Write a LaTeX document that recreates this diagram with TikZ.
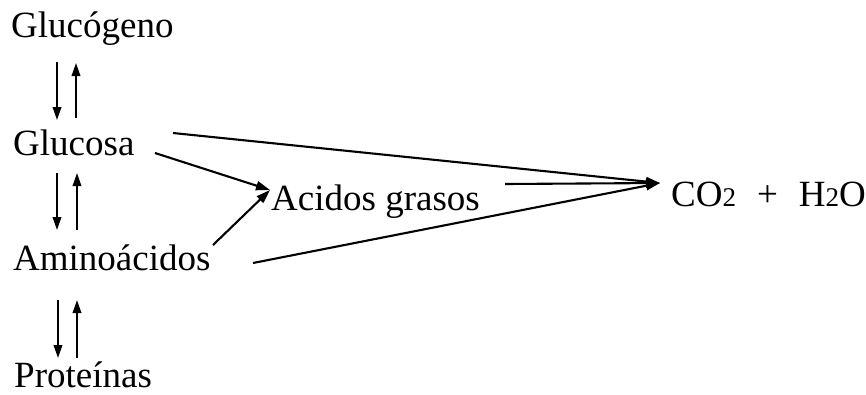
\documentclass[tikz,border=0pt]{standalone}
\usepackage{fontspec}
\setmainfont{Liberation Serif}
\usetikzlibrary{calc,arrows.meta}
\newcommand{\subtwo}{{\fontsize{27}{30}\selectfont 2}}
\begin{document}
\begin{tikzpicture}[x=1pt,y=-1pt,
  lbl/.style={inner sep=0pt,anchor=base west,font=\fontsize{37}{44}\selectfont},
  arr/.style={line width=2.1pt,-{Triangle[length=14pt,width=9pt]}},
  varr/.style={line width=2pt,-{Triangle[length=13pt,width=8.5pt]}}]
\useasboundingbox (0,0) rectangle (866,394);
\node[lbl] (gn) at (11,37) {Glucógeno};
\node[lbl] (gs) at (13,155) {Glucosa};
\node[lbl] (am) at (13,270) {Aminoácidos};
\node[lbl] (pr) at (14,387) {Proteínas};
\node[lbl] (ag) at (271,210) {Acidos grasos};
\node[lbl] (co) at (671,206) {CO\subtwo\hspace{21pt}+\hspace{21pt}H\subtwo O};
\coordinate (sink) at ($(co.base west)+(-11,-23)$);
\coordinate (agtip) at ($(ag.base west)+(-1,-20)$);
% vertical pairs
\draw[varr] ($(gn.base west)+(46,25)$) -- ($(gs.base west)+(44,-35)$);
\draw[varr] ($(gs.base west)+(63,-37)$) -- ($(gn.base west)+(65,26)$);
\draw[varr] ($(gs.base west)+(44,18)$) -- ($(am.base west)+(44,-40)$);
\draw[varr] ($(am.base west)+(64,-40)$) -- ($(gs.base west)+(64,18)$);
\draw[varr] ($(am.base west)+(45,30)$) -- ($(pr.base west)+(44,-29)$);
\draw[varr] ($(pr.base west)+(63,-29)$) -- ($(am.base west)+(64,30)$);
% diagonals
\draw[arr] ($(gs.base west)+(160,-22)$) -- (sink);
\draw[arr] ($(gs.base west)+(142,-2)$) -- (agtip);
\draw[arr] ($(am.base west)+(200,-25)$) -- (agtip);
\draw[arr] ($(ag.base west)+(234,-26)$) -- (sink);
\draw[arr] ($(am.base west)+(240,-7)$) -- (sink);
\end{tikzpicture}
\end{document}
